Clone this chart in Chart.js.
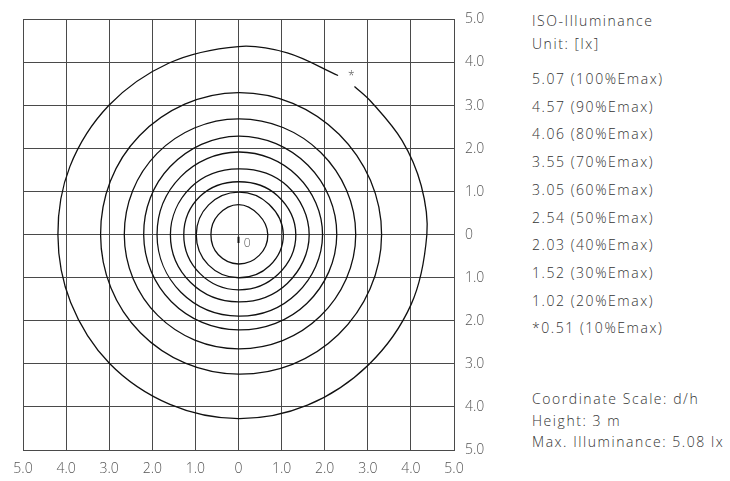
<!DOCTYPE html>
<html lang="en">
<head>
  <meta charset="UTF-8">
  <title>ISO-Illuminance</title>
  <script src="https://cdn.jsdelivr.net/npm/chart.js"></script>
  <style>
    body { margin: 0; background: #fff; }
    #wrap { position: relative; width: 730px; height: 481px; overflow: hidden; }
    #box { position: absolute; left: 0; top: 0; width: 500px; height: 481px; }
    .t { position: absolute; left: 532px; height: 20px; line-height: 20px; white-space: nowrap;
         font-family: 'Open Sans', sans-serif; font-weight: 300; font-size: 14px;
         letter-spacing: 1.55px; color: #333; }
  </style>
</head>
<body>
  <div id="wrap">
    <div id="box"><canvas id="isoChart"></canvas></div>
  </div>

  <script>
    // Axis tick labels (distance / mounting height, shown unsigned)
    const tickLabels = ['5.0', '4.0', '3.0', '2.0', '1.0', '0', '1.0', '2.0', '3.0', '4.0', '5.0'];

    // Legend: iso-lux levels
    const levelLux = ['5.07', '4.57', '4.06', '3.55', '3.05', '2.54', '2.03', '1.52', '1.02', '0.51'];
    const levelPct = [100, 90, 80, 70, 60, 50, 40, 30, 20, 10];
    const infoLines = ['Coordinate Scale: d/h', 'Height: 3 m', 'Max. Illuminance: 5.08 lx'];

    // Contour radii (d/h) read in 8 directions: E, NE, N, NW, W, SW, S, SE
    const dirAngles = [0, 45, 90, 135, 180, 225, 270, 315];
    const ring90 = [0.68, 0.66, 0.70, 0.66, 0.64, 0.66, 0.68, 0.68];
    const ring80 = [1.04, 1.00, 0.99, 0.98, 0.98, 0.99, 1.00, 1.02];
    const ring70 = [1.33, 1.28, 1.23, 1.26, 1.27, 1.27, 1.28, 1.30];
    const ring60 = [1.64, 1.60, 1.53, 1.56, 1.58, 1.57, 1.56, 1.60];
    const ring50 = [1.95, 1.93, 1.92, 1.90, 1.89, 1.89, 1.89, 1.92];
    const ring40 = [2.28, 2.28, 2.29, 2.24, 2.20, 2.20, 2.21, 2.25];
    const ring30 = [2.72, 2.70, 2.69, 2.67, 2.65, 2.65, 2.65, 2.68];
    const ring20 = [3.32, 3.30, 3.30, 3.25, 3.20, 3.22, 3.24, 3.28];

    // 10% contour: open arc, broken where its "*" label sits (52..58 deg)
    const ring10Angles = [58, 75, 90, 112, 135, 158, 180, 202, 225, 248, 270, 292, 315, 338, 360, 375, 390, 405, 412];
    const ring10 = [4.36, 4.37, 4.37, 4.30, 4.25, 4.22, 4.19, 4.20, 4.23, 4.25, 4.27, 4.27, 4.27, 4.32, 4.37, 4.39, 4.38, 4.36, 4.37];

    // 100% level: tiny mark at the centre
    const peakMarkX = [0, 0];
    const peakMarkY = [-0.05, -0.19];

    // small in-plot labels
    const noteText = ['0', '*'];
    const noteX = [0.2, 2.62];
    const noteY = [-0.2, 3.67];

    const LINE = '#111';
    const HIDE = 'rgba(0,0,0,0)';

    function toXY(angles, radii) {
      return angles.map((a, i) => ({
        x: radii[i] * Math.cos(a * Math.PI / 180),
        y: radii[i] * Math.sin(a * Math.PI / 180)
      }));
    }

    // closed ring: one extra point on each end so the spline is smooth
    // where the loop closes (those two end segments are hidden)
    function ringDataset(angles, radii) {
      const pts = toXY(angles, radii);
      const data = [pts[pts.length - 1], ...pts, pts[0], pts[1]];
      const last = data.length - 2;
      return {
        data: data,
        showLine: true,
        borderColor: LINE,
        borderWidth: 1.3,
        pointRadius: 0,
        tension: 0.375,
        segment: {
          borderColor: ctx => (ctx.p0DataIndex === 0 || ctx.p0DataIndex === last) ? HIDE : LINE
        }
      };
    }

    const datasets = [
      {
        data: toXY(ring10Angles, ring10),
        showLine: true,
        borderColor: LINE,
        borderWidth: 1.3,
        pointRadius: 0,
        tension: 0.34
      },
      ringDataset(dirAngles, ring20),
      ringDataset(dirAngles, ring30),
      ringDataset(dirAngles, ring40),
      ringDataset(dirAngles, ring50),
      ringDataset(dirAngles, ring60),
      ringDataset(dirAngles, ring70),
      ringDataset(dirAngles, ring80),
      ringDataset(dirAngles, ring90),
      {
        data: peakMarkX.map((x, i) => ({ x: x, y: peakMarkY[i] })),
        showLine: true,
        borderColor: LINE,
        borderWidth: 2,
        pointRadius: 0
      }
    ];

    const notesPlugin = {
      id: 'notes',
      afterDatasetsDraw(chart) {
        const { ctx, scales: { x, y } } = chart;
        ctx.save();
        ctx.fillStyle = '#555';
        ctx.font = "300 12px 'Open Sans', sans-serif";
        ctx.textAlign = 'center';
        ctx.textBaseline = 'middle';
        noteText.forEach((t, i) => {
          ctx.fillText(t, x.getPixelForValue(noteX[i]), y.getPixelForValue(noteY[i]));
        });
        ctx.restore();
      }
    };

    const GRID = '#4a4a4a';
    const tickFont = { family: "'Open Sans', sans-serif", size: 14, weight: '300' };

    new Chart(document.getElementById('isoChart'), {
      type: 'scatter',
      data: { datasets: datasets },
      options: {
        responsive: true,
        maintainAspectRatio: false,
        animation: false,
        layout: { padding: { left: 23, top: 13, right: 0, bottom: 0 } },
        plugins: { legend: { display: false }, tooltip: { enabled: false } },
        scales: {
          x: {
            type: 'linear', min: -5, max: 5,
            ticks: { stepSize: 1, color: '#555', font: tickFont, padding: 11,
                     maxRotation: 0, callback: (v, i) => tickLabels[i] },
            grid: { color: GRID, lineWidth: 1, drawTicks: false },
            border: { color: GRID, width: 1 },
            afterFit: s => { s.height = 31; }
          },
          y: {
            type: 'linear', position: 'right', min: -5, max: 5,
            ticks: { stepSize: 1, color: '#555', font: tickFont, padding: 11,
                     callback: (v, i) => tickLabels[i] },
            grid: { color: GRID, lineWidth: 1, drawTicks: false },
            border: { color: GRID, width: 1 },
            afterFit: s => { s.width = 46; }
          }
        }
      },
      plugins: [notesPlugin]
    });

    // text block on the right
    const wrap = document.getElementById('wrap');
    function addLine(text, cy) {
      const d = document.createElement('div');
      d.className = 't';
      d.style.top = (cy - 10) + 'px';
      d.textContent = text;
      wrap.appendChild(d);
    }
    addLine('ISO-Illuminance', 21);
    addLine('Unit: [lx]', 44);
    levelLux.forEach((v, i) => {
      const star = levelPct[i] === 10 ? '*' : '';
      addLine(star + v + ' (' + levelPct[i] + '%Emax)', 79 + i * 27.7);
    });
    infoLines.forEach((t, i) => addLine(t, 399 + i * 21.5));
  </script>
</body>
</html>
